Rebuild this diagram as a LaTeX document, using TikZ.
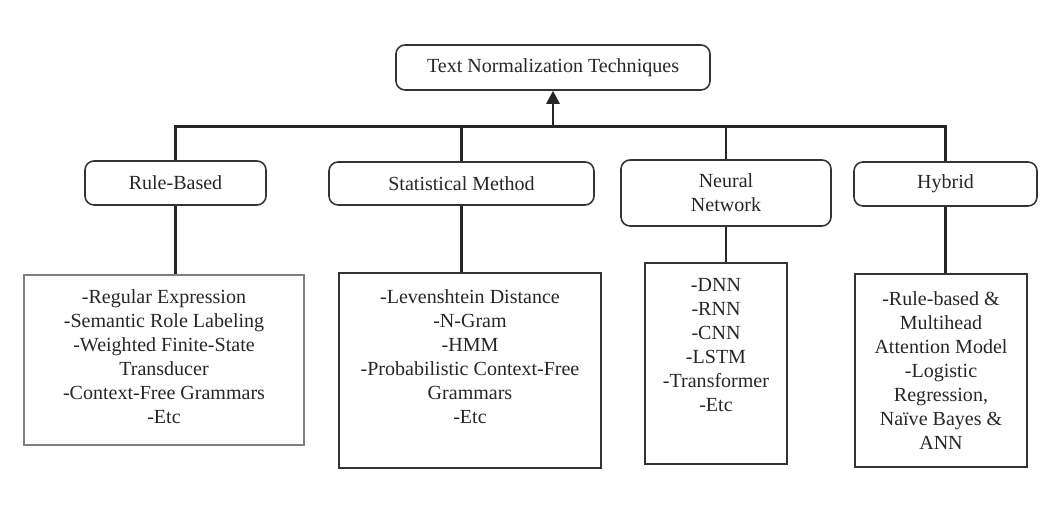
\documentclass[tikz,border=0pt]{standalone}
\usepackage{fontspec}
\setmainfont{Liberation Serif}
\usetikzlibrary{arrows.meta,positioning,calc}

\begin{document}
\begin{tikzpicture}[
    txt/.style={font=\fontsize{11.4pt}{13.7pt}\selectfont, text=black!85},
    box/.style={rectangle, draw=black!80, line width=0.9pt, rounded corners=0.18cm, align=center, txt, inner sep=2pt},
    listbox/.style={rectangle, draw=black!80, line width=0.9pt, align=center, txt, inner sep=2pt},
    link/.style={line width=1.5pt, black!85},
    arrow/.style={link, -{Triangle[length=0.26cm, width=0.26cm]}}
]
\useasboundingbox (0,0) rectangle (21.04,10.28);

% Root
\node[box, minimum width=6.28cm, minimum height=0.9cm] (root) at (11.06,8.93) {Text Normalization Techniques};

% Categories
\node[box, minimum width=3.62cm, minimum height=0.88cm] (rule) at (3.51,6.62) {Rule-Based};
\node[box, minimum width=5.3cm, minimum height=0.86cm] (stat) at (9.23,6.61) {Statistical Method};
\node[box, minimum width=4.2cm, minimum height=1.32cm] (neural) at (14.52,6.42) {Neural\\Network};
\node[box, minimum width=3.66cm, minimum height=0.88cm] (hybrid) at (18.91,6.6) {Hybrid};

% Technique lists
\node[listbox, draw=black!50, minimum width=5.6cm, minimum height=3.4cm, text depth=0.15cm] (ruleList) at (3.28,3.08) {
    -Regular Expression\\
    -Semantic Role Labeling\\
    -Weighted Finite-State\\
    Transducer\\
    -Context-Free Grammars\\
    -Etc
};
\node[listbox, minimum width=5.24cm, minimum height=3.9cm, text depth=0.55cm] (statList) at (9.40,2.87) {
    -Levenshtein Distance\\
    -N-Gram\\
    -HMM\\
    -Probabilistic Context-Free\\
    Grammars\\
    -Etc
};
\node[listbox, minimum width=2.84cm, minimum height=4.02cm, text depth=0.75cm] (neuralList) at (14.32,3.01) {
    -DNN\\
    -RNN\\
    -CNN\\
    -LSTM\\
    -Transformer\\
    -Etc
};
\node[listbox, minimum width=3.44cm, minimum height=3.86cm] (hybridList) at (18.82,2.87) {
    -Rule-based \&\\
    Multihead\\
    Attention Model\\
    -Logistic\\
    Regression,\\
    Naïve Bayes \&\\
    ANN
};

% Tree connectors
\coordinate[below=0.72cm of root.south] (joint);
\draw[arrow] (joint) -- (root);
\draw[link] (rule) |- (joint) -| (hybrid);
\draw[link] (stat) -- (stat |- joint);
\draw[link] (neural) -- (neural |- joint);

% Category to list
\draw[link] (rule) -- (rule |- ruleList.north);
\draw[link] (stat) -- (stat |- statList.north);
\draw[link] (neural) -- (neural |- neuralList.north);
\draw[link] (hybrid) -- (hybrid |- hybridList.north);

\end{tikzpicture}
\end{document}
